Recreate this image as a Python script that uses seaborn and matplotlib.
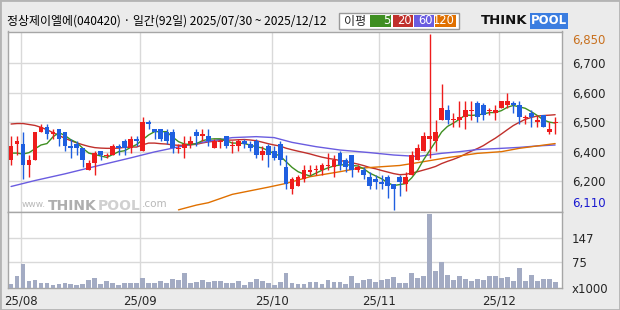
import numpy as np
import pandas as pd
import matplotlib
matplotlib.use("Agg")
import matplotlib.pyplot as plt
import seaborn as sns
from matplotlib.patches import Rectangle

sns.set_style("white")
plt.rcParams['font.family'] = ['Noto Sans CJK KR', 'DejaVu Sans']

# ---------------- data ----------------
title = "정상제이엘에(040420) · 일간(92일) 2025/07/30 ~ 2025/12/12"
holidays = ["2025-08-15", "2025-10-03", "2025-10-06", "2025-10-07", "2025-10-08", "2025-10-09"]
dates = pd.bdate_range("2025-07-30", "2025-12-12", freq="C", holidays=holidays)

opens = [6320, 6390, 6390, 6300, 6320, 6440, 6460, 6430, 6450, 6440,
         6380, 6390, 6370, 6280, 6310, 6360, 6340, 6340, 6380, 6400,
         6370, 6410, 6360, 6480, 6450, 6450, 6440, 6440, 6370, 6370,
         6390, 6440, 6420, 6420, 6370, 6400, 6420, 6380, 6380, 6400,
         6390, 6400, 6340, 6380, 6360, 6390, 6290, 6200, 6210, 6240,
         6270, 6280, 6280, 6300, 6290, 6350, 6320, 6340, 6280, 6280,
         6250, 6240, 6230, 6250, 6220, 6250, 6220, 6260, 6320, 6360,
         6410, 6400, 6490, 6530, 6490, 6490, 6500, 6530, 6560, 6550,
         6530, 6520, 6540, 6550, 6560, 6550, 6500, 6520, 6480, 6510,
         6440, 6480]
highs = [6420, 6420, 6440, 6340, 6440, 6470, 6470, 6450, 6450, 6440,
         6410, 6400, 6370, 6320, 6360, 6360, 6350, 6390, 6390, 6410,
         6420, 6420, 6500, 6490, 6450, 6450, 6450, 6450, 6390, 6420,
         6420, 6450, 6450, 6450, 6410, 6410, 6420, 6400, 6410, 6410,
         6400, 6410, 6380, 6390, 6380, 6400, 6340, 6250, 6260, 6300,
         6300, 6300, 6310, 6350, 6340, 6360, 6330, 6340, 6300, 6290,
         6270, 6260, 6260, 6260, 6220, 6260, 6270, 6360, 6390, 6440,
         6850, 6490, 6640, 6550, 6520, 6570, 6570, 6570, 6570, 6560,
         6540, 6550, 6570, 6600, 6570, 6570, 6510, 6530, 6510, 6510,
         6480, 6500]
lows = [6300, 6340, 6240, 6250, 6320, 6440, 6410, 6410, 6380, 6360,
        6330, 6340, 6290, 6280, 6260, 6320, 6330, 6340, 6340, 6340,
        6350, 6380, 6360, 6450, 6410, 6400, 6390, 6350, 6350, 6330,
        6370, 6380, 6400, 6380, 6370, 6370, 6370, 6350, 6360, 6370,
        6360, 6330, 6320, 6290, 6320, 6300, 6200, 6180, 6210, 6230,
        6260, 6260, 6260, 6280, 6250, 6280, 6270, 6250, 6270, 6240,
        6200, 6200, 6200, 6160, 6110, 6170, 6190, 6260, 6320, 6360,
        6330, 6360, 6490, 6470, 6460, 6460, 6450, 6490, 6480, 6490,
        6510, 6490, 6540, 6540, 6520, 6470, 6470, 6460, 6460, 6460,
        6430, 6430]
closes = [6380, 6400, 6300, 6320, 6440, 6460, 6430, 6440, 6410, 6380,
          6370, 6370, 6320, 6310, 6350, 6340, 6340, 6380, 6370, 6370,
          6410, 6400, 6480, 6470, 6440, 6410, 6400, 6370, 6370, 6390,
          6400, 6420, 6430, 6400, 6400, 6400, 6380, 6380, 6400, 6390,
          6370, 6340, 6360, 6340, 6330, 6320, 6220, 6240, 6250, 6280,
          6280, 6280, 6300, 6300, 6320, 6300, 6290, 6280, 6290, 6260,
          6210, 6230, 6220, 6210, 6200, 6230, 6250, 6340, 6370, 6420,
          6420, 6440, 6540, 6490, 6490, 6500, 6530, 6530, 6500, 6510,
          6530, 6530, 6570, 6570, 6550, 6500, 6500, 6500, 6490, 6460,
          6450, 6480]
volume = [12, 35, 70, 21, 23, 15, 15, 10, 13, 15,
          13, 10, 13, 23, 29, 13, 21, 15, 10, 15,
          14, 15, 29, 14, 16, 21, 16, 26, 24, 44,
          16, 19, 24, 18, 21, 21, 16, 16, 21, 10,
          18, 26, 21, 15, 9, 18, 44, 14, 12, 12,
          18, 18, 12, 24, 18, 18, 12, 35, 15, 24,
          26, 19, 24, 26, 32, 15, 15, 44, 29, 35,
          218, 50, 76, 38, 24, 35, 26, 21, 26, 24,
          35, 35, 29, 32, 21, 59, 21, 38, 21, 26,
          26, 18]  # x1000 shares

ma5_head = [6350, 6350, 6346, 6352]
ma20_head = [6472, 6474, 6474, 6470, 6466, 6458, 6448, 6436, 6424, 6412,
             6402, 6393, 6385, 6378, 6373, 6371, 6370, 6370, 6371]
ma60_day = [0, 4, 9, 15, 20, 24, 28, 33, 37, 41, 44, 47, 51, 55, 60, 64, 68, 72, 75, 78, 82, 85, 88, 91]
ma60_val = [6210, 6235, 6263, 6300, 6330, 6355, 6376, 6400, 6415, 6419, 6415, 6395,
            6377, 6363, 6352, 6342, 6336, 6349, 6356, 6365, 6370, 6374, 6380, 6384]
ma120_day = [28, 31, 33, 37, 43, 46, 50, 55, 58, 62, 65, 68, 73, 78, 82, 85, 91]
ma120_val = [6112, 6132, 6142, 6177, 6207, 6223, 6251, 6272, 6286, 6293, 6298,
             6310, 6331, 6349, 6356, 6370, 6390]

legend_labels = ["5", "20", "60", "120"]

# ---------------- frame ----------------
df = pd.DataFrame({"date": dates, "open": opens, "high": highs, "low": lows,
                   "close": closes, "vol": volume})
df["day"] = np.arange(len(df))
ma5 = df["close"].rolling(5).mean()
ma5.iloc[:len(ma5_head)] = ma5_head
ma20 = df["close"].rolling(20).mean()
ma20.iloc[:len(ma20_head)] = ma20_head
df["ma5"] = ma5
df["ma20"] = ma20

C_UP, C_DN = "#ee1c1c", "#1f5fe0"
C5, C20, C60, C120 = "#3f8f22", "#c0302c", "#6a5ce0", "#e07000"
BG = "#ebebeb"
GRID = "#d9d9d9"
EDGE = "#a6a6a6"

W, H = 620, 310
fig = plt.figure(figsize=(W / 100, H / 100), dpi=100, facecolor=BG)

def fx(px):
    return px / W

def fy(py):
    return 1 - py / H

left, right = 7.5, 562
top_p, mid, bot = 31.5, 212, 288
ax = fig.add_axes([fx(left), fy(mid), fx(right - left), (mid - top_p) / H])
axv = fig.add_axes([fx(left), fy(bot), fx(right - left), (bot - mid) / H], sharex=ax)

for a in (ax, axv):
    a.set_facecolor("white")
    for s in a.spines.values():
        s.set_color(EDGE)
        s.set_linewidth(1)

# month grid lines
month_first = df.groupby(df["date"].dt.to_period("M"))["day"].min()
month_first = month_first[month_first > 0]
grid_x = month_first.values - 0.4
for a in (ax, axv):
    for gx in grid_x:
        a.axvline(gx, color=GRID, lw=1, zorder=0)

# price grid
lo, hi = df["low"].min(), df["high"].max()
gvals = np.linspace(lo, hi, 7)
for g in gvals[1:-1]:
    ax.axhline(g, color=GRID, lw=1, zorder=0)

# watermark (behind the marks)
ax.text(0.026, 0.025, "www.", transform=ax.transAxes, fontsize=6.5, color="#b8b8b8",
        va="baseline", ha="left", family="DejaVu Sans", zorder=1)
ax.text(0.073, 0.012, "THINK", transform=ax.transAxes, fontsize=10, fontweight="bold",
        color="#aeaeae", va="baseline", ha="left", family="DejaVu Sans", zorder=1)
ax.text(0.162, 0.012, "POOL", transform=ax.transAxes, fontsize=10, fontweight="bold",
        color="#d0d0d0", va="baseline", ha="left", family="DejaVu Sans", zorder=1)
ax.text(0.243, 0.025, ".com", transform=ax.transAxes, fontsize=7.5, color="#b8b8b8",
        va="baseline", ha="left", family="DejaVu Sans", zorder=1)

# moving averages (seaborn)
sns.lineplot(x=df["day"], y=df["ma20"], ax=ax, color=C20, lw=1, zorder=2)
sns.lineplot(x=ma60_day, y=ma60_val, ax=ax, color=C60, lw=1, zorder=2)
sns.lineplot(x=ma120_day, y=ma120_val, ax=ax, color=C120, lw=1, zorder=2)
sns.lineplot(x=df["day"], y=df["ma5"], ax=ax, color=C5, lw=1, zorder=2)

# candles
up = df["close"] >= df["open"]
cols = np.where(up, C_UP, C_DN)
ax.vlines(df["day"], df["low"], df["high"], colors=cols, lw=1, zorder=3)
body_lo = np.minimum(df["open"], df["close"])
body_h = np.maximum(np.abs(df["close"] - df["open"]), 4)
ax.bar(df["day"], body_h, bottom=body_lo - np.where(body_h == 4, 2, 0), width=0.8,
       color=cols, linewidth=0, zorder=4)

ax.set_xlim(-0.6, 92.15)
ax.set_ylim(lo - 7, hi + 10)
ax.set_xlabel("")
ax.set_ylabel("")
ax.tick_params(axis="x", bottom=False, labelbottom=False)
ax.yaxis.tick_right()
ax.set_yticks(gvals)
ylabels = [f"{lo:,.0f}"] + [f"{round(v, -2):,.0f}" for v in gvals[1:-1]] + [f"{hi:,.0f}"]
ax.set_yticklabels(ylabels, fontsize=8.5, family="DejaVu Sans")
ax.tick_params(axis="y", length=0, pad=7)
tl = ax.get_yticklabels()
tl[0].set_color("#1a1ad0")
tl[0].set_verticalalignment("bottom")
tl[-1].set_color("#c8701e")
tl[-1].set_verticalalignment("top")

# volume (seaborn)
sns.barplot(data=df, x="day", y="vol", ax=axv, native_scale=True, color="#a3abc3",
            saturation=1, errorbar=None, width=0.8, linewidth=0, zorder=3)
for g in (75, 147):
    axv.axhline(g, color=GRID, lw=1, zorder=0)
axv.set_ylim(0, 223)
axv.set_xlim(-0.6, 92.15)
axv.yaxis.tick_right()
axv.set_yticks([0, 75, 147])
axv.set_yticklabels(["x1000", "75", "147"], fontsize=8.5, family="DejaVu Sans")
axv.tick_params(axis="y", length=0, pad=7)
axv.set_xticks(grid_x)
axv.set_xticklabels([d.strftime("%y/%m") for d in df.loc[month_first.values, "date"]],
                    fontsize=8.5, family="DejaVu Sans")
axv.tick_params(axis="x", length=0, pad=5)
axv.set_xlabel("")
axv.set_ylabel("")

# title
fig.text(fx(7), fy(21), title, fontsize=8.6, va="center", ha="left", color="black")

# MA legend box
fig.patches.append(Rectangle((fx(339), fy(29)), fx(120), 16 / H, transform=fig.transFigure,
                             facecolor="white", edgecolor="#999999", lw=1))
fig.text(fx(344), fy(21), "이평", fontsize=8.7, va="center", ha="left")
boxes = [(370, 391), (393, 413), (414, 434), (435, 456)]
for (x0, x1), c, lab in zip(boxes, [C5, C20, C60, C120], legend_labels):
    fig.patches.append(Rectangle((fx(x0), fy(27)), fx(x1 - x0), 12 / H, transform=fig.transFigure,
                                 facecolor=c, edgecolor="none"))
    fig.text(fx(x1 - 1), fy(21), lab, fontsize=8.3, va="center", ha="right", color="white",
             family="DejaVu Sans")

# logo
fig.text(fx(481), fy(21), "THINK", fontsize=9.5, fontweight="bold", va="center", ha="left",
         family="DejaVu Sans", color="#111111")
fig.text(fx(531), fy(21), "POOL", fontsize=8.5, fontweight="bold", va="center", ha="left",
         family="DejaVu Sans", color="white",
         bbox=dict(boxstyle="square,pad=0.1", facecolor="#3b7de0", edgecolor="none"))

# outer frame
fig.patches.append(Rectangle((0, 0), 1, 1, transform=fig.transFigure, fill=False,
                             edgecolor="#b4b4b4", lw=2))

fig.savefig("out.png", dpi=100, facecolor=BG)
